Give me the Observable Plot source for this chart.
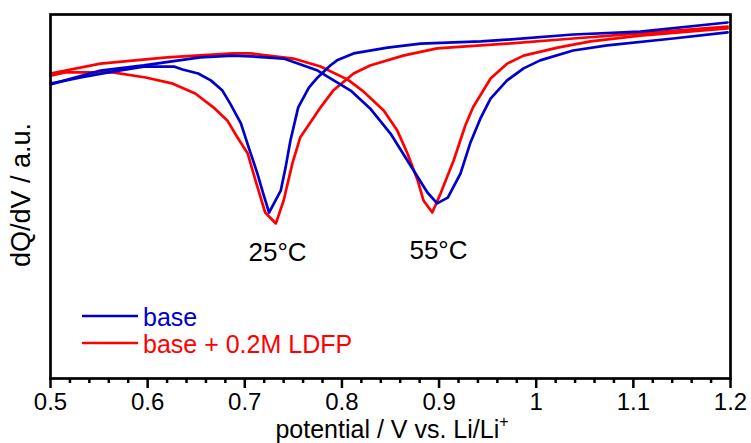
<!DOCTYPE html>
<html><head><meta charset="utf-8">
<script src="https://cdn.jsdelivr.net/npm/d3@7"></script>
<script src="https://cdn.jsdelivr.net/npm/@observablehq/plot@0.6"></script>
<style>
body{margin:0;background:#fff}
#chart svg{display:block}
</style>
</head><body><div id="chart"></div>
<script>
// ---- data (potential in V, dQ/dV in arbitrary units) ----
const base25V = [0.500,0.531,0.564,0.596,0.627,0.636,0.652,0.665,0.677,0.685,0.696,0.704,0.713,0.719,0.725,0.737,0.742,0.747,0.755,0.766,0.775,0.788,0.795,0.812,0.847,0.881,0.943,0.970,1.038,1.107,1.197];
const base25Q = [81.0,82.7,84.3,85.7,85.7,84.9,83.8,81.9,79.1,75.5,70.1,63.5,56.3,50.8,45.6,51.6,58.0,65.4,74.5,79.9,82.7,86.0,87.4,89.3,90.9,92.0,92.6,93.1,94.5,95.3,97.8];

const ldfp25V = [0.500,0.515,0.564,0.598,0.626,0.649,0.669,0.682,0.6925,0.703,0.711,0.721,0.732,0.740,0.749,0.757,0.771,0.778,0.791,0.812,0.829,0.863,0.898,0.943,0.970,1.038,1.107,1.197];
const ldfp25Q = [83.2,84.1,84.1,82.7,81.0,78.3,74.2,70.9,66.2,61.8,54.4,45.6,42.6,48.9,59.1,66.2,71.7,74.5,79.1,83.8,86.0,88.7,90.7,91.5,92.0,93.4,94.8,96.7];

const base55V = [0.500,0.5515,0.596,0.654,0.688,0.706,0.740,0.775,0.809,0.829,0.850,0.8706,0.888,0.898,0.909,0.922,0.932,0.943,0.953,0.970,0.987,1.004,1.038,1.073,1.141,1.197];
const base55Q = [80.8,84.6,86.0,88.2,88.7,88.5,87.9,84.6,79.1,74.2,67.3,58.5,51.1,48.1,49.7,56.3,64.6,71.7,76.9,81.9,85.2,87.4,90.1,91.5,93.4,95.1];

const ldfp55V = [0.500,0.5515,0.620,0.688,0.706,0.750,0.778,0.806,0.821,0.843,0.857,0.8675,0.878,0.884,0.893,0.9015,0.915,0.927,0.935,0.953,0.970,0.987,1.022,1.056,1.107,1.197];
const ldfp55Q = [83.8,86.5,88.2,89.3,89.3,87.9,85.7,82.1,79.1,73.6,68.1,61.8,54.4,48.9,45.6,50.8,59.9,69.5,74.5,82.4,86.5,88.7,90.9,92.6,94.2,96.2];

const seriesNames = ["base", "base + 0.2M LDFP"];
const seriesColors = ["#0000cc", "#ff0000"];

const peakLabels = ["25°C", "55°C"];
const peakLabelV = [0.7337, 0.8994];
const peakLabelQ = [34.6, 35.2];

const xTicks = [0.5, 0.6, 0.7, 0.8, 0.9, 1.0, 1.1, 1.2];
const xTickLabels = ["0.5", "0.6", "0.7", "0.8", "0.9", "1", "1.1", "1.2"];
const xMinorTicks = d3.range(25, 61).filter(i => i % 5 !== 0).map(i => i / 50);

const xLabel = "potential / V vs. Li/Li";
const xLabelSup = "+";
const yLabel = "dQ/dV / a.u.";

// ---- build tables ----
const toRows = (V, Q) => V.map((v, i) => ({V: v, Q: Q[i]}));
const base25 = toRows(base25V, base25Q);
const ldfp25 = toRows(ldfp25V, ldfp25Q);
const base55 = toRows(base55V, base55Q);
const ldfp55 = toRows(ldfp55V, ldfp55Q);
const peaks = peakLabels.map((t, i) => ({label: t, V: peakLabelV[i], Q: peakLabelQ[i]}));

const FONT = "'Liberation Sans', Arial, Helvetica, sans-serif";
const FS_TICK = 24;
const FS_TEXT = 26;
const FS_TITLE = 25;
const LW = 2.7;

const plot = Plot.plot({
  width: 751,
  height: 443,
  marginLeft: 50,
  marginRight: 21,
  marginTop: 14,
  marginBottom: 65,
  style: {fontFamily: FONT, background: "#fff", color: "#000"},
  x: {domain: [0.5, 1.2]},
  y: {domain: [0, 100], axis: null},
  marks: [
    Plot.line(ldfp25, {x: "V", y: "Q", stroke: seriesColors[1], strokeWidth: LW}),
    Plot.line(ldfp55, {x: "V", y: "Q", stroke: seriesColors[1], strokeWidth: LW}),
    Plot.line(base25, {x: "V", y: "Q", stroke: seriesColors[0], strokeWidth: LW}),
    Plot.line(base55, {x: "V", y: "Q", stroke: seriesColors[0], strokeWidth: LW}),
    Plot.text(peaks, {x: "V", y: "Q", text: "label", fontSize: FS_TEXT, fill: "#000"}),
    Plot.axisX(xMinorTicks, {tickSize: 5, strokeWidth: 2.5, text: null, label: null}),
    Plot.axisX(xTicks, {tickSize: 10, tickPadding: 4, strokeWidth: 2.5, fontSize: FS_TICK, label: null,
      tickFormat: d => xTickLabels[xTicks.findIndex(t => Math.abs(t - d) < 1e-9)]}),
    Plot.frame({stroke: "#000", strokeWidth: 2.7})
  ]
});

document.getElementById("chart").appendChild(plot);

// ---- axis titles and legend ----
const svg = d3.select(plot);
const g = svg.append("g").attr("font-family", FONT).attr("fill", "#000");

const xl = g.append("text").attr("x", 392).attr("y", 437.5)
  .attr("text-anchor", "middle").attr("font-size", FS_TITLE);
xl.append("tspan").text(xLabel);
xl.append("tspan").attr("dy", -11).attr("font-size", 16).text(xLabelSup);

g.append("text")
  .attr("transform", "translate(30,195) rotate(-90)")
  .attr("text-anchor", "middle")
  .attr("font-size", 27)
  .text(yLabel);

const legendY = [316, 343];
seriesNames.forEach((name, i) => {
  g.append("line")
    .attr("x1", 82).attr("x2", 138)
    .attr("y1", legendY[i]).attr("y2", legendY[i])
    .attr("stroke", seriesColors[i]).attr("stroke-width", LW);
  g.append("text")
    .attr("x", 143).attr("y", legendY[i] + 9.5)
    .attr("text-anchor", "start")
    .attr("font-size", 25)
    .attr("fill", seriesColors[i])
    .text(name);
});
</script>
</body></html>
